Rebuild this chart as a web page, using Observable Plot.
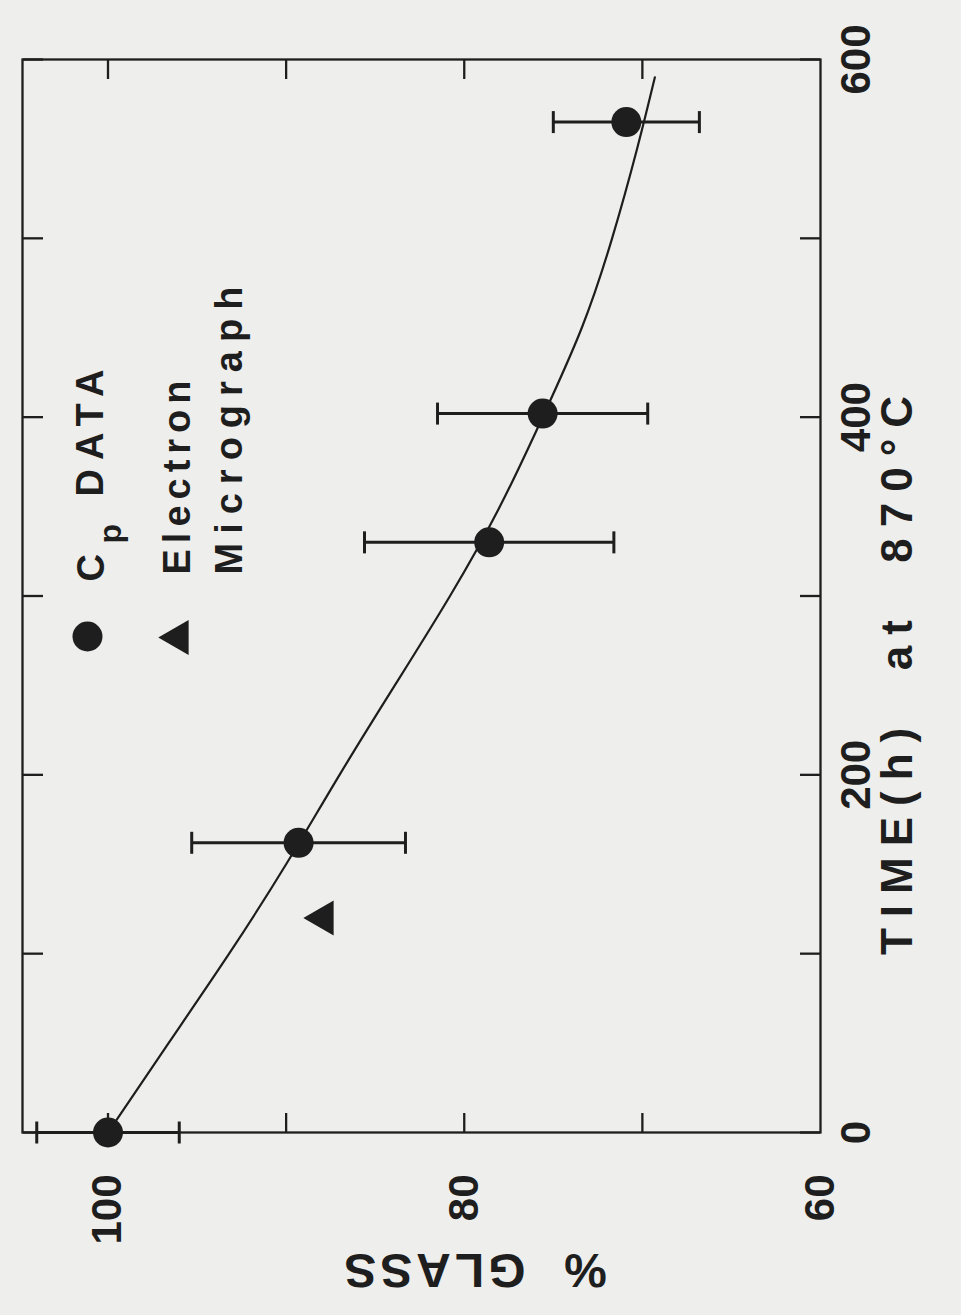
<!DOCTYPE html>
<html><head><meta charset="utf-8">
<script src="https://cdn.jsdelivr.net/npm/d3@7"></script>
<script src="https://cdn.jsdelivr.net/npm/@observablehq/plot@0.6"></script>
<style>
html,body{margin:0;padding:0;background:#eeeeec;width:961px;height:1315px;overflow:hidden;}
#rot{position:absolute;left:0;top:0;width:1315px;height:961px;transform-origin:0 0;transform:translate(0,1315px) rotate(-90deg);}
svg text{white-space:pre;}
</style></head><body><div id="rot"></div>
<script>
// Cp data: time (h) at 870 °C, % glass, error half-width
const cpTime = [0, 162, 330, 402, 565];
const cpGlass = [100, 89.3, 78.6, 75.6, 70.9];
const cpErr = [4, 6, 7, 5.9, 4.1];
// Electron micrograph
const emTime = [120];
const emGlass = [87.9];
// fitted curve
const fitTime = [0, 50, 100, 150, 200, 250, 300, 350, 400, 450, 500, 550, 590];
const fitGlass = [100, 96.6, 93.2, 90.0, 87.0, 83.9, 80.8, 78.0, 75.6, 73.4, 71.7, 70.3, 69.3];
// axes
const timeTicks = [0, 100, 200, 300, 400, 500, 600];
const timeLabels = [0, 200, 400, 600];
const glassTicks = [70, 80, 90, 100];
const glassLabels = [60, 80, 100];
const xTitle = "TIME(h)  at  870\u00B0C";
const yTitle = "%  GLASS";
const legendCp = ["C", "p", "DATA"];
const legendEm = ["Electron", "Micrograph"];

const ink = "#1e1e1e";
const cp = cpTime.map((t, i) => ({t, g: cpGlass[i], e: cpErr[i]}));
const caps = cp.flatMap(d => [{t: d.t, g: d.g - d.e}, {t: d.t, g: d.g + d.e}]);
const em = emTime.map((t, i) => ({t, g: emGlass[i]}));
const fit = fitTime.map((t, i) => ({t, g: fitGlass[i]}));
const capSymbol = {draw(ctx, size) { const w = Math.sqrt(size / Math.PI); ctx.moveTo(-w, 0); ctx.lineTo(w, 0); }};
const noText = () => "";
const font = "Liberation Sans, Arial, sans-serif";
const txt = (s, o) => Plot.text([s], {text: d => d, frameAnchor: "top-left", textAnchor: "start", lineAnchor: "middle", fill: ink, fontSize: 38, ...o});

const chart = Plot.plot({
  width: 1315, height: 961,
  marginLeft: 182, marginRight: 60, marginTop: 22, marginBottom: 141,
  style: {background: "transparent", color: ink, fontFamily: font, fontWeight: "bold"},
  x: {domain: [0, 600]},
  y: {domain: [60, 104.8]},
  marks: [
    Plot.frame({stroke: ink, strokeWidth: 2.3}),
    Plot.axisX(timeTicks, {anchor: "bottom", tickSize: -20, strokeWidth: 2.3, tickFormat: noText, label: null}),
    Plot.axisX(timeTicks, {anchor: "top", tickSize: -20, strokeWidth: 2.3, tickFormat: noText, label: null}),
    Plot.axisY(glassTicks, {anchor: "left", tickSize: -20, strokeWidth: 2.3, tickFormat: noText, label: null}),
    Plot.axisY(glassTicks, {anchor: "right", tickSize: -20, strokeWidth: 2.3, tickFormat: noText, label: null}),
    Plot.axisX(timeLabels, {anchor: "bottom", tickSize: 0, tickPadding: 20, fontSize: 42, label: null}),
    Plot.axisY(glassLabels, {anchor: "left", tickSize: 0, tickPadding: 42, fontSize: 42, label: null}),
    Plot.line(fit, {x: "t", y: "g", curve: "natural", stroke: ink, strokeWidth: 2.2}),
    Plot.ruleX(cp, {x: "t", y1: d => d.g - d.e, y2: d => d.g + d.e, stroke: ink, strokeWidth: 3}),
    Plot.dot(caps, {x: "t", y: "g", symbol: capSymbol, r: 11, stroke: ink, strokeWidth: 3, fill: "none"}),
    Plot.dot(cp, {x: "t", y: "g", r: 15, fill: ink, stroke: "none"}),
    Plot.dot(em, {x: "t", y: "g", symbol: "triangle", r: 13, fill: ink, stroke: "none"}),
    // legend
    Plot.dot([0], {frameAnchor: "top-left", dx: 496, dy: 65, r: 15, fill: ink, stroke: "none"}),
    Plot.dot([0], {frameAnchor: "top-left", dx: 495, dy: 156, r: 13, symbol: "triangle", fill: ink, stroke: "none"}),
    txt(legendCp[0], {dx: 551, dy: 69}),
    txt(legendCp[1], {dx: 589, dy: 88, fontSize: 32}),
    txt(legendCp[2], {dx: 636, dy: 68}),
    txt(legendEm[0], {dx: 558, dy: 155}),
    txt(legendEm[1], {dx: 558, dy: 207}),
    // axis titles
    Plot.text([xTitle], {text: d => d, frameAnchor: "bottom", dx: -74, dy: 77, fontSize: 44, textAnchor: "middle", lineAnchor: "middle", fill: ink}),
    Plot.text([yTitle], {text: d => d, frameAnchor: "left", dx: -137, dy: 52, rotate: -90, fontSize: 48, textAnchor: "middle", lineAnchor: "middle", fill: ink})
  ]
});
const spacing = {"DATA": 9, "Electron": 6, "Micrograph": 9};
spacing[xTitle] = 11;
spacing[yTitle] = 4;
chart.querySelectorAll("text").forEach(t => {
  const s = spacing[t.textContent];
  if (s != null) t.style.letterSpacing = s + "px";
});
document.getElementById("rot").appendChild(chart);
</script>
</body></html>
